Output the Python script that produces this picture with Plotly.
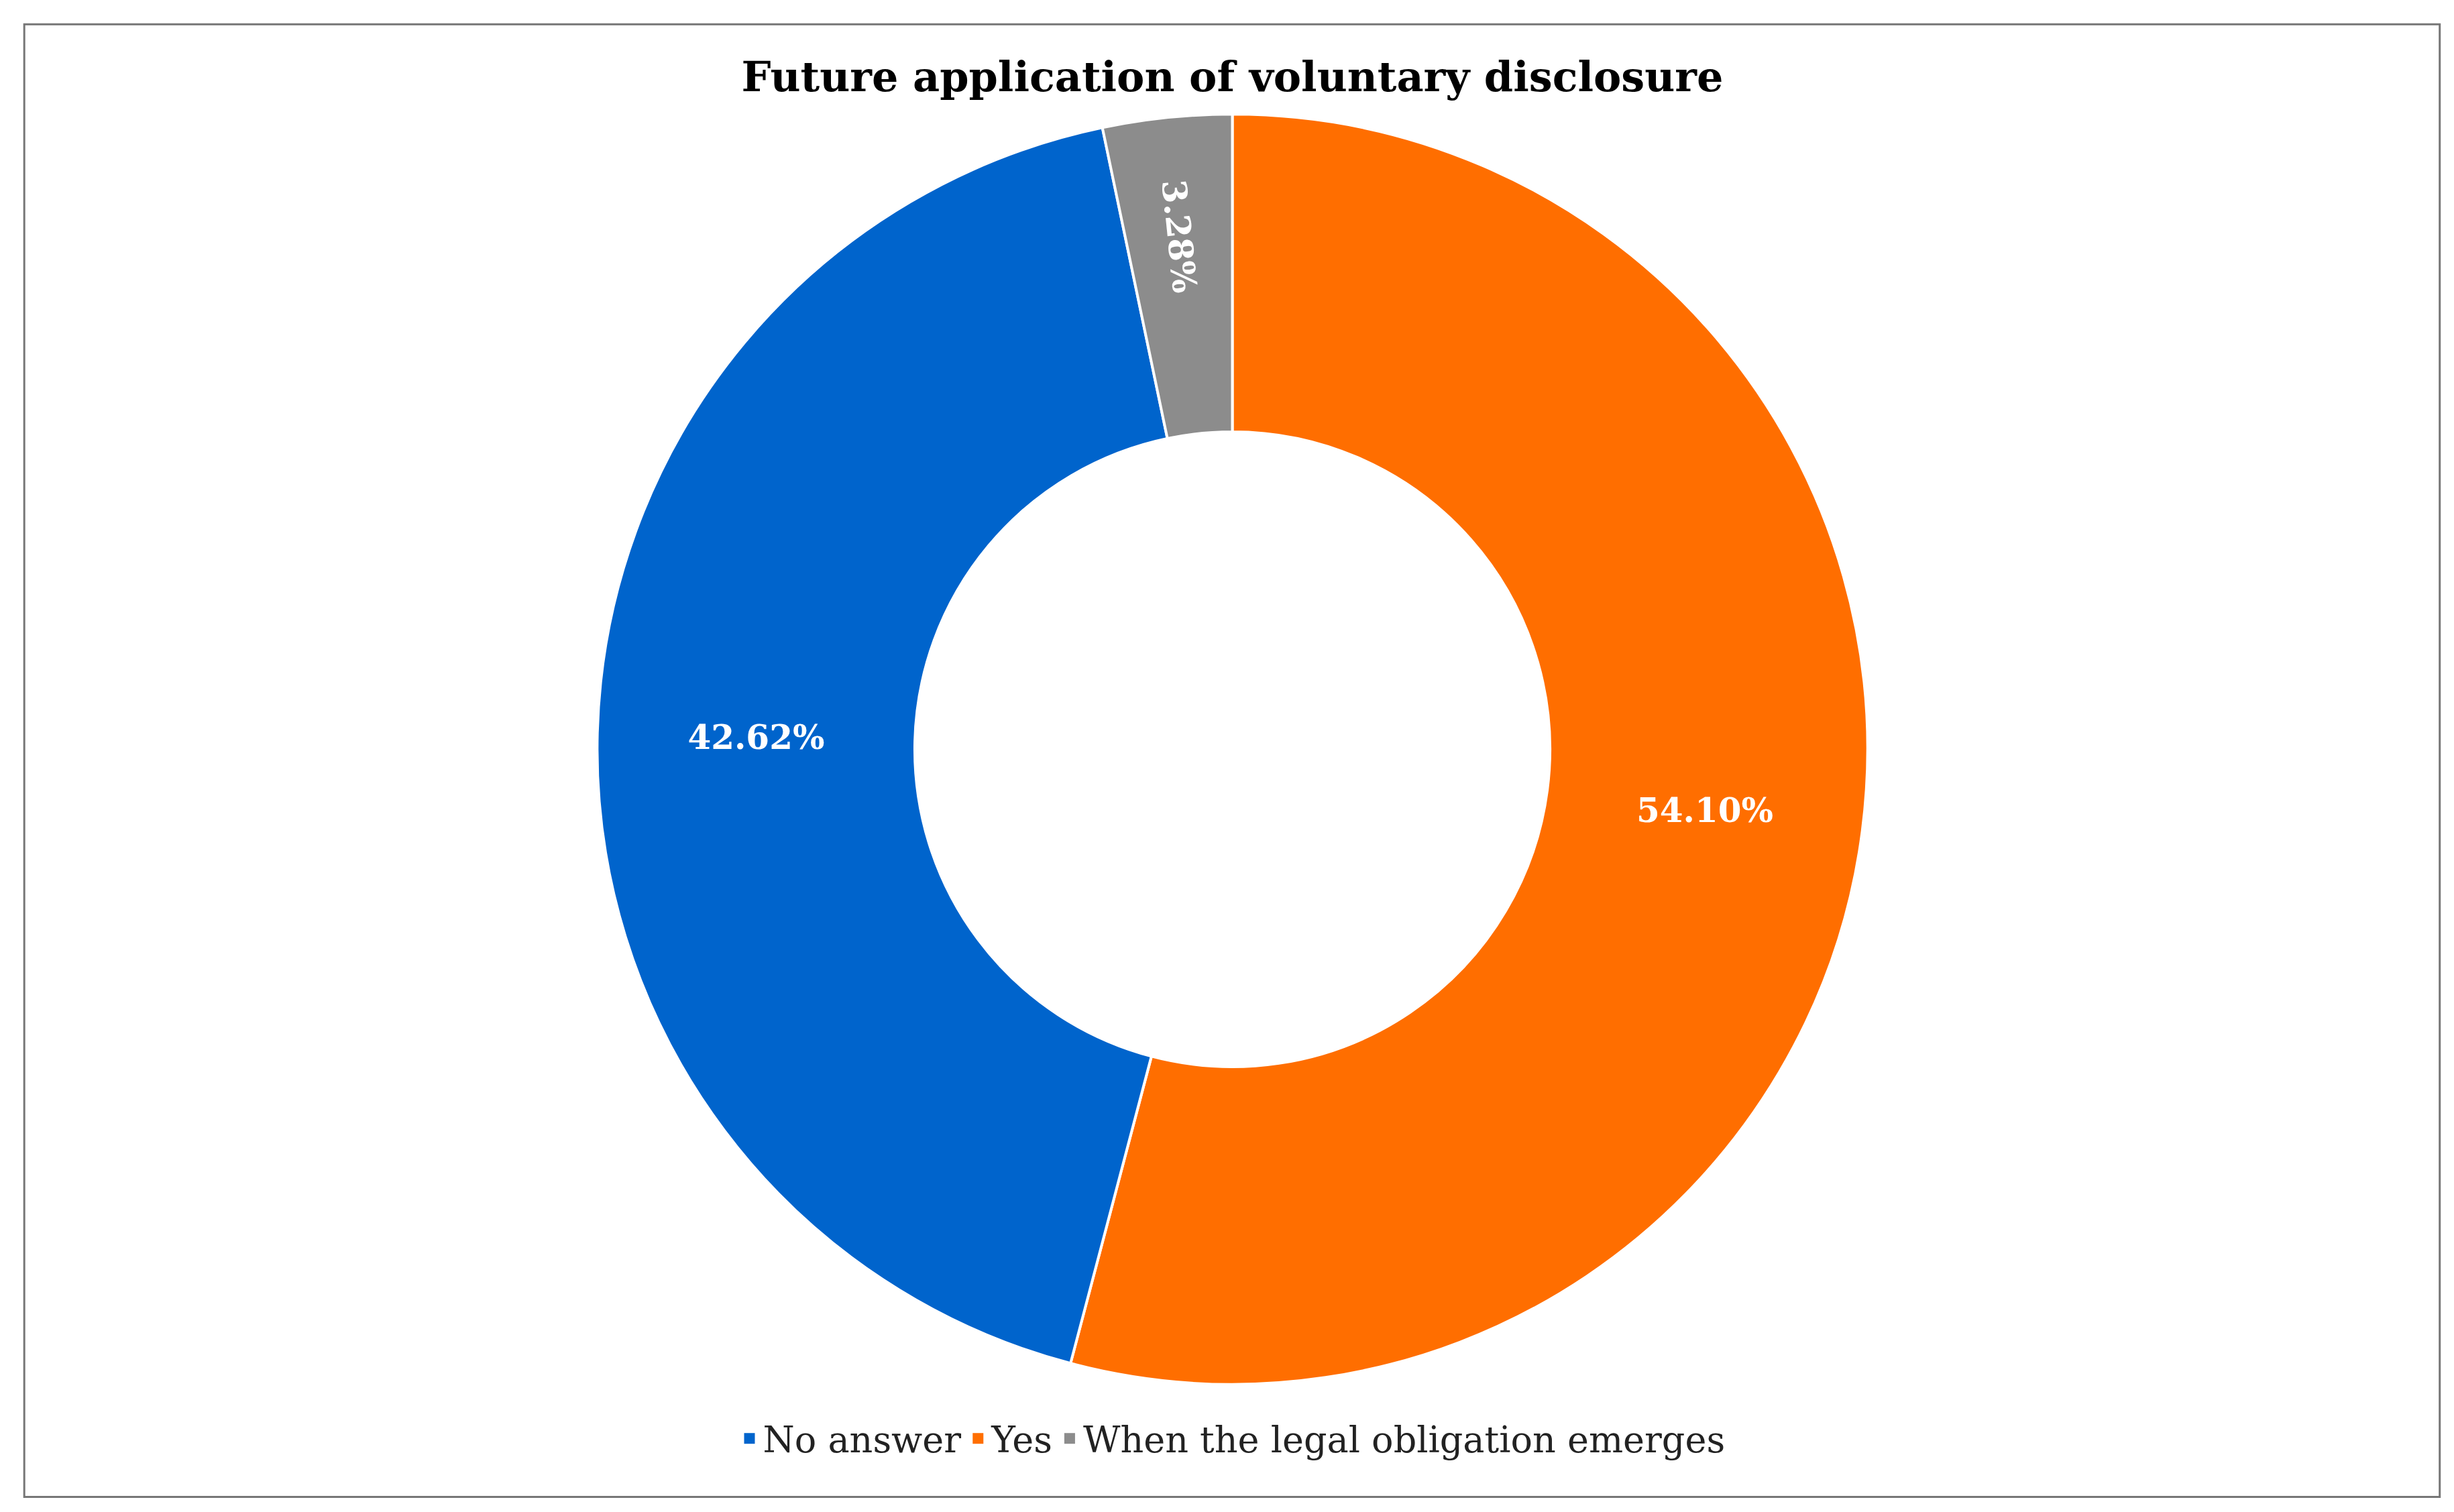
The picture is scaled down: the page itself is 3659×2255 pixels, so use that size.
import plotly.graph_objects as go

labels = ["Yes", "No answer", "When the legal obligation emerges"]
values = [54.10, 42.62, 3.28]
text_labels = ["54.10%", "42.62%", "3.28%"]
colors = ["#FF6E00", "#0064CC", "#8C8C8C"]
legend_order = ["No answer", "Yes", "When the legal obligation emerges"]

W, H = 3659, 2255
fig = go.Figure(go.Pie(
    labels=labels, values=values, text=text_labels, textinfo="text",
    sort=False, direction="clockwise", rotation=0,
    hole=0.5, showlegend=False,
    marker=dict(colors=colors, line=dict(color="white", width=4)),
    textposition="inside", insidetextorientation="auto",
    textfont=dict(family="DejaVu Serif", size=50, color="white", weight="bold"),
    domain=dict(x=[0.2, 0.8], y=[0.088, 0.928]),
))
for name in legend_order:
    c = colors[labels.index(name)]
    fig.add_trace(go.Scatter(x=[None], y=[None], mode="markers", name=name,
                             marker=dict(symbol="square", size=24, color=c)))

fig.update_layout(
    width=W, height=H, margin=dict(l=0, r=0, t=0, b=0),
    paper_bgcolor="white", plot_bgcolor="white",
    xaxis=dict(visible=False), yaxis=dict(visible=False),
    title=dict(text="<b>Future application of voluntary disclosure</b>",
               x=0.5, xanchor="center", y=0.953, yanchor="middle",
               font=dict(family="DejaVu Serif", size=62, color="black")),
    legend=dict(orientation="h", x=0.5, xanchor="center", y=0.052, yanchor="middle",
                font=dict(family="DejaVu Serif", size=54, color="#222")),
    shapes=[dict(type="rect", xref="paper", yref="paper",
                 x0=0.0077, x1=0.992, y0=0.0135, y1=0.9875,
                 line=dict(color="#777", width=3))],
)
fig.write_html("out.html")
